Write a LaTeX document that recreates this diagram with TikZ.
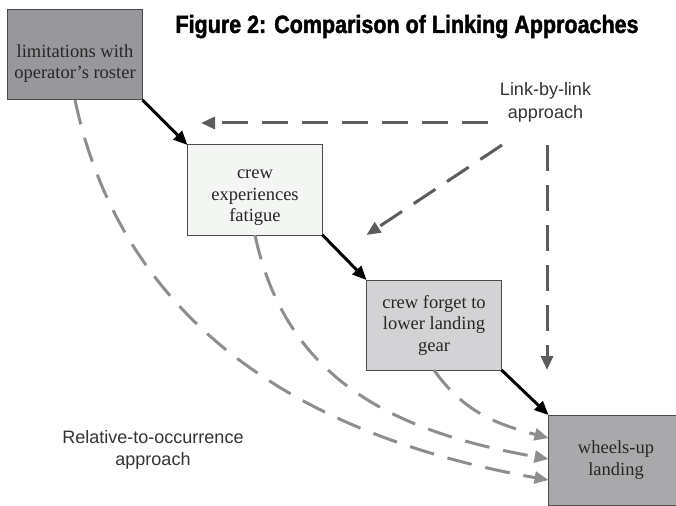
\documentclass[tikz,border=0pt]{standalone}
\usepackage{fontspec}
\setmainfont{Liberation Serif}
\newfontfamily\labelfont{Liberation Sans}
\newfontfamily\titlefont[FakeStretch=0.86,FakeBold=1.6]{Liberation Sans}
\usepackage{xcolor}
\usepackage{tkz-graph}
\usetikzlibrary{arrows.meta}
\definecolor{rosterfill}{HTML}{98989C}
\definecolor{fatiguefill}{HTML}{F3F6F3}
\definecolor{gearfill}{HTML}{D3D3D5}
\definecolor{landingfill}{HTML}{A9A9AB}
\definecolor{linkgray}{HTML}{5C5C5C}
\definecolor{occgray}{HTML}{8E8E8E}
\definecolor{boxline}{HTML}{4A4A4A}

\begin{document}
\begin{tikzpicture}[x=1pt,y=1pt,>={Triangle[length=14pt,width=12pt]}]
		\useasboundingbox (0,0) rectangle (676,-505);
		\clip (0,0) rectangle (676,-505);
		%\draw[help lines] (0,0) grid (676,-505);
		\node[font=\titlefont\bfseries\fontsize{25}{25}\selectfont, anchor=base] (title) at (407,-33) {Figure 2: Comparison of Linking Approaches};
		\tikzset{VertexStyle/.style = {rectangle, draw=boxline, line width=1pt,
				minimum width=135pt, minimum height=90pt, inner sep=0pt, align=center,
				text=black!85, font=\fontsize{18.5}{21.5}\selectfont}}
		\Vertex[x=75,y=-55,L={\rule{0pt}{30pt}limitations with\\operator’s roster},style={fill=rosterfill}]{A}
		\Vertex[x=255,y=-190,L={\rule{0pt}{24pt}crew\\experiences\\fatigue},style={fill=fatiguefill}]{B}
		\Vertex[x=434,y=-325,L={crew forget to\\lower landing\\gear},style={fill=gearfill}]{C}
		\Vertex[x=616,y=-460,L={wheels-up\\landing},style={fill=landingfill}]{D}
		\tikzset{EdgeStyle/.style = {->, line width=3pt, black}}
		\Edge(A.south east)(B.north west)
		\Edge(B.south east)(C.north west)
		\Edge(C.south east)(D.north west)
		% link-by-link
		\node[font=\labelfont\fontsize{18}{23}\selectfont, align=center, text=black!80] (linklbl) at (545.5,-102) {Link-by-link\\approach};
		\coordinate (hstart) at (488,-123);
		\coordinate (hend) at (201,-123);
		\coordinate (dstart) at (502,-145);
		\coordinate (vstart) at (547,-145);
		\tikzset{EdgeStyle/.style = {->, linkgray, line width=3pt, dash pattern=on 26pt off 14pt}}
		\Edge(hstart)(hend)
		\Edge(dstart)(C.west |- B.south)
		\Edge(vstart)(vstart |- C.south)
		% relative-to-occurrence
		\node[font=\labelfont\fontsize{18}{22}\selectfont, align=center, text=black!80] (occlbl) at (153,-449.5) {Relative-to-occurrence\\approach};
		\coordinate (Dtop) at ([yshift=22pt]D.west);
		\coordinate (Dmid) at ([yshift=1pt]D.west);
		\coordinate (Dbot) at ([yshift=-20pt]D.west);
		\tikzset{EdgeStyle/.style = {->, occgray, line width=3pt, dash pattern=on 25pt off 14pt}}
		\Edge[style={out=-78,in=170,looseness=1}](A.south)(Dbot)
		\Edge[style={out=-78,in=170,looseness=1.05}](B.south)(Dmid)
		\Edge[style={out=-55,in=165,looseness=1}](C.south)(Dtop)
\end{tikzpicture}
\end{document}
